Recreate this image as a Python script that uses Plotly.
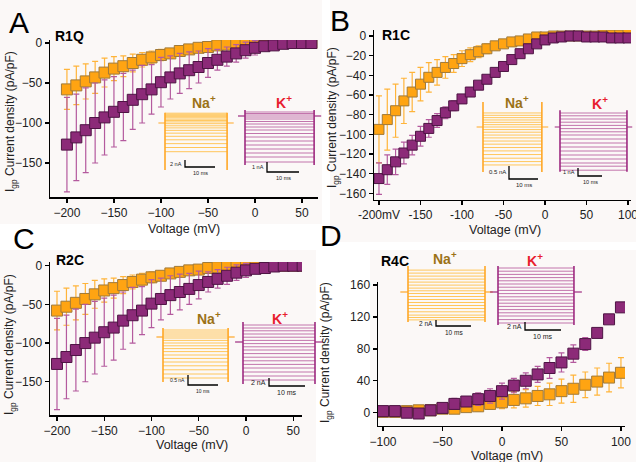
import plotly.graph_objects as go

W, H = 636, 462
FONT = "Arial, Liberation Sans, sans-serif"

# ---------------- data: I-V curves ----------------
volt_ac = [-200, -190, -180, -170, -160, -150, -140, -130, -120, -110, -100, -90, -80,
           -70, -60, -50, -40, -30, -20, -10, 0, 10, 20, 30, 40, 50, 60]
na_a = [-58, -53, -48, -43, -37, -32, -29, -25, -21, -18, -15, -13, -10, -8, -6, -5, -3, -2,
        -1, -1, 0, 0, 0, 0, 0, 0, 0]
na_a_se = [25, 24, 22, 20, 18, 15, 13, 11, 9, 8, 7, 6, 5, 5, 4, 4, 3, 3, 2, 2, 2, 1, 1, 1, 1, 1, 1]
k_a = [-127, -118, -109, -100, -93, -86, -80, -71, -64, -58, -49, -43, -38, -34, -30, -25, -21,
       -17, -13, -9, -6, -4, -3, -1, 0, 0, 0]
k_a_se = [59, 54, 53, 50, 47, 44, 42, 37, 36, 31, 31, 27, 25, 23, 20, 18, 13, 12, 11, 10, 9, 5,
          4, 2, 1, 1, 1]

volt_b = [-200, -190, -180, -170, -160, -150, -140, -130, -120, -110, -100, -90, -80, -70, -60,
          -50, -40, -30, -20, -10, 0, 10, 20, 30, 40, 50, 60, 70, 80, 90, 100]
na_b = [-95, -85, -76, -66, -57, -49, -42, -37, -32, -28, -23, -19, -16, -13, -10, -8, -6, -5,
        -3, -1, -1, 0, 0, 0, 0, 0, 0, 1, 1, 1, 2]
na_b_se = [34, 31, 27, 23, 20, 17, 15, 13, 11, 9, 8, 7, 6, 5, 4, 4, 3, 3, 2, 2, 2, 1, 1, 1, 1,
           1, 1, 1, 1, 1, 1]
k_b = [-145, -136, -128, -119, -111, -102, -94, -86, -78, -71, -64, -57, -50, -44, -37, -31, -24,
       -18, -13, -8, -4, -2, -1, 0, 0, -1, -1, -1, -2, -2, -2]
k_b_se = [16, 15, 13, 11, 10, 10, 9, 7, 6, 5, 4, 3, 3, 2, 2, 2, 2, 1, 1, 1, 1, 1, 1, 1, 1, 1, 1,
          1, 1, 1, 1]

na_c = [-58, -53, -48, -43, -37, -32, -29, -25, -21, -18, -15, -13, -10, -8, -6, -5, -3, -2,
        -1, -1, 0, 0, 0, 0, 0, 0, 0]
na_c_se = [25, 24, 22, 20, 18, 15, 13, 11, 9, 8, 7, 6, 5, 5, 4, 4, 3, 3, 2, 2, 2, 1, 1, 1, 1, 1, 1]
k_c = [-127, -118, -109, -100, -93, -86, -80, -71, -64, -58, -49, -43, -38, -34, -30, -25, -21,
       -17, -13, -9, -6, -4, -3, -1, 0, 0, 0]
k_c_se = [59, 54, 53, 50, 47, 44, 42, 37, 36, 31, 31, 27, 25, 23, 20, 18, 13, 12, 11, 10, 9, 5,
          4, 2, 1, 1, 1]

volt_d = [-100, -90, -80, -70, -60, -50, -40, -30, -20, -10, 0, 10, 20, 30, 40, 50, 60, 70, 80,
          90, 100]
na_d = [1, 1, 2, 3, 3, 5, 5, 7, 8, 11, 13, 16, 18, 21, 23, 27, 30, 35, 39, 44, 50]
na_d_se = [2, 2, 2, 3, 3, 4, 4, 5, 6, 7, 8, 10, 11, 12, 14, 15, 17, 16, 17, 18, 19]
k_d = [2, 2, 0, -1, 3, 6, 11, 14, 17, 21, 27, 34, 40, 48, 56, 63, 74, 86, 100, 117, 132]
k_d_se = [3, 3, 3, 4, 4, 5, 7, 6, 8, 9, 10, 9, 10, 10, 13, 12, 11, 8, 5, 4, 6]

# ---------------- data: inset current traces (steady levels, nA) ----------------
a_na_levels = [2.8, 2.5, 2.2, 1.9, 1.5, 1.1, 0.7, 0.3, -0.2, -0.8, -1.4, -2.1, -2.9, -3.8,
               -4.8, -5.9, -7.0, -8.2]
a_k_levels = [0.4, 0.25, 0.1, -0.1, -0.3, -0.55, -0.8, -1.1, -1.4, -1.75, -2.1, -2.5, -2.9,
              -3.3, -3.7, -4.1, -4.6]
b_na_levels = [0.54, 0.45, 0.36, 0.27, 0.18, 0.09, 0.0, -0.1, -0.2, -0.31, -0.42, -0.54, -0.66,
               -0.79, -0.92, -1.06, -1.2, -1.33, -1.46]
b_k_levels = [1.75, 1.4, 1.0, 0.6, 0.2, -0.2, -0.6, -1.0, -1.5, -2.0, -2.5, -3.0, -3.5, -4.0,
              -4.5, -4.9, -5.4]
c_na_levels = [0.35, 0.25, 0.15, 0.05, -0.05, -0.17, -0.3, -0.44, -0.58, -0.73, -0.9, -1.07,
               -1.25, -1.44, -1.64, -1.85, -2.05]
c_k_levels = [4.25, 3.5, 2.8, 2.0, 1.2, 0.4, -0.4, -1.2, -2.0, -2.9, -3.8, -4.7, -5.6, -6.5,
              -7.5, -8.5, -9.5]
d_na_levels = [7.3, 6.3, 5.3, 4.3, 3.3, 2.3, 1.3, 0.4, -0.5, -1.5, -2.5, -3.5, -4.5, -5.5, -6.6,
               -7.7, -8.5, -9.3]
d_k_levels = [6.0, 5.2, 4.4, 3.6, 2.8, 2.0, 1.2, 0.4, -0.4, -1.2, -2.0, -2.8, -3.6, -4.4, -5.2,
              -6.0, -6.9, -7.75]
# capacitive transient peaks (top, bottom) in nA and pulse durations in ms
a_na_trans, a_k_trans = [2.9, -13.4], [0.6, -4.9]
b_na_trans, b_k_trans = [0.96, -1.73], [2.1, -5.6]
c_na_trans, c_k_trans = [0.45, -2.25], [5.0, -10.5]
d_na_trans, d_k_trans = [8.7, -10.0], [6.5, -8.25]
pulse_ms = [20.7, 21.6, 20.3, 27.9, 21.7, 20.0, 22.0, 21.1]
scale_na = [2, 1, 0.5, 1, 0.5, 2, 2, 2]
scale_labels = ["2 nA", "1 nA", "0.5 nA", "1 nA", "0.5 nA", "2 nA", "2 nA", "2 nA"]
scale_ms = 10

# ---------------- styling ----------------
NA_FILL, NA_EDGE, NA_ERR = "#FFA412", "#A07A3A", "#FFB43A"
K_FILL, K_EDGE, K_ERR = "#8C2A78", "#4E1444", "#B45A9E"
NA_TRACE, NA_TR_EDGE = "#FFC65A", "#FFA726"
K_TRACE, K_TR_EDGE = "#C274AC", "#9E2A80"


def px_x(p):
    return p / W


def px_y(p):
    return 1 - p / H


fig = go.Figure()
layout = {}
annotations = []
shapes = []

# subtle panel backgrounds
for (x0, y0, x1, y1) in [(0, 0, 322, 224), (330, 0, 636, 242), (0, 250, 316, 462), (370, 250, 636, 462)]:
    shapes.append(dict(type="rect", xref="paper", yref="paper", x0=px_x(x0), x1=px_x(x1),
                       y0=px_y(y1), y1=px_y(y0), fillcolor="#fbf8f7", line=dict(width=0),
                       layer="below"))

panels = [
    dict(v=volt_ac, na=na_a, na_se=na_a_se, k=k_a, k_se=k_a_se, px=(50, 318), py=(40, 197),
         xr=[-218, 67], yr=[-192.5, 3.75], xt=[-200, -150, -100, -50, 0, 50], xtt=None,
         yt=[-150, -100, -50, 0], ms=11),
    dict(v=volt_b, na=na_b, na_se=na_b_se, k=k_b, k_se=k_b_se, px=(374, 631), py=(30, 199.5),
         xr=[-206, 103.6], yr=[-166.3, 6.1], xt=[-200, -150, -100, -50, 0, 50, 100],
         xtt=["-200mV", "-150", "-100", "-50", "0", "50", "100"],
         yt=[-160, -140, -120, -100, -80, -60, -40, -20, 0], ms=10),
    dict(v=volt_ac, na=na_c, na_se=na_c_se, k=k_c, k_se=k_c_se, px=(50, 302), py=(262, 415),
         xr=[-207.4, 59.3], yr=[-193, 4.8], xt=[-200, -150, -100, -50, 0, 50], xtt=None,
         yt=[-150, -100, -50, 0], ms=11),
    dict(v=volt_d, na=na_d, na_se=na_d_se, k=k_d, k_se=k_d_se, px=(378, 625), py=(282, 425.7),
         xr=[-104.2, 103.4], yr=[-16.3, 163.8], xt=[-100, -50, 0, 50, 100], xtt=None,
         yt=[0, 40, 80, 120, 160], ms=11),
]

for i, p in enumerate(panels, start=1):
    s = "" if i == 1 else str(i)
    for vals, se, fill, edge, err in [(p["na"], p["na_se"], NA_FILL, NA_EDGE, NA_ERR),
                                      (p["k"], p["k_se"], K_FILL, K_EDGE, K_ERR)]:
        fig.add_trace(go.Scatter(
            x=p["v"], y=vals, mode="markers", xaxis="x" + s, yaxis="y" + s,
            marker=dict(symbol="square", size=p["ms"], color=fill, line=dict(color=edge, width=1)),
            error_y=dict(type="data", array=se, color=err, thickness=1.2, width=3),
            showlegend=False, hoverinfo="skip"))
    common = dict(showline=True, linecolor="black", linewidth=1.5, ticks="outside", ticklen=4,
                  tickwidth=1.3, tickcolor="black", showgrid=False, zeroline=False,
                  automargin=False, showticklabels=True, ticklabeloverflow="allow",
                  tickfont=dict(size=12, family=FONT, color="#222"), fixedrange=True)
    xa = dict(domain=[px_x(p["px"][0]), px_x(p["px"][1])], range=p["xr"], anchor="y" + s,
              tickvals=p["xt"], **common)
    if p["xtt"]:
        xa["ticktext"] = p["xtt"]
    layout["xaxis" + s] = xa
    layout["yaxis" + s] = dict(domain=[px_y(p["py"][1]), px_y(p["py"][0])], range=p["yr"],
                               anchor="x" + s, tickvals=p["yt"], **common)

# ---------------- insets ----------------
insets = [
    dict(levels=a_na_levels, trans=a_na_trans, ton=165, base=123, ppms=3.0, ppna=3.5, corner=(185, 167), na=True, fs=5.5),
    dict(levels=a_k_levels, trans=a_k_trans, ton=245, base=116, ppms=3.2, ppna=10, corner=(267, 172), na=False, fs=5.5),
    dict(levels=b_na_levels, trans=b_na_trans, ton=483, base=127, ppms=2.9, ppna=26, corner=(509, 179), na=True, fs=6),
    dict(levels=b_k_levels, trans=b_k_trans, ton=560, base=127, ppms=2.4, ppna=8, corner=(578, 176), na=False, fs=5.5),
    dict(levels=c_na_levels, trans=c_na_trans, ton=163, base=337, ppms=3.0, ppna=20, corner=(188, 385), na=True, fs=5),
    dict(levels=c_k_levels, trans=c_k_trans, ton=243, base=342, ppms=3.6, ppna=4, corner=(269, 386), na=False, fs=7),
    dict(levels=d_na_levels, trans=d_na_trans, ton=408, base=292, ppms=3.5, ppna=3, corner=(436, 326), na=True, fs=6.5),
    dict(levels=d_k_levels, trans=d_k_trans, ton=498, base=292, ppms=3.6, ppna=4, corner=(525, 330), na=False, fs=7),
]

for j, ins in enumerate(insets):
    n = str(j + 5)
    dur = pulse_ms[j]
    ton, base, ppms, ppna = ins["ton"], ins["base"], ins["ppms"], ins["ppna"]
    cx, cy = ins["corner"]
    x0p, x1p = ton - 9, ton + dur * ppms + 9
    y0p = base - ins["trans"][0] * ppna - 3
    y1p = max(cy, base - ins["trans"][1] * ppna) + 3
    layout["xaxis" + n] = dict(domain=[px_x(x0p), px_x(x1p)],
                               range=[(x0p - ton) / ppms, (x1p - ton) / ppms],
                               anchor="y" + n, visible=False, fixedrange=True, automargin=False)
    layout["yaxis" + n] = dict(domain=[px_y(y1p), px_y(y0p)],
                               range=[(base - y1p) / ppna, (base - y0p) / ppna],
                               anchor="x" + n, visible=False, fixedrange=True, automargin=False)
    col = NA_TRACE if ins["na"] else K_TRACE
    ecol = NA_TR_EDGE if ins["na"] else K_TR_EDGE
    xs, ys = [], []
    for lv in ins["levels"]:
        xs += [0, dur, None]
        ys += [lv, lv, None]
    fig.add_trace(go.Scatter(x=xs, y=ys, mode="lines", line=dict(color=col, width=1),
                             xaxis="x" + n, yaxis="y" + n, showlegend=False, hoverinfo="skip"))
    # baseline stubs and transient edges
    fig.add_trace(go.Scatter(x=[-2.2, 0, None, dur, dur + 2.2],
                             y=[0, 0, None, 0, 0], mode="lines",
                             line=dict(color=ecol, width=1.2), xaxis="x" + n, yaxis="y" + n,
                             showlegend=False, hoverinfo="skip"))
    fig.add_trace(go.Scatter(x=[0, 0, None, dur, dur],
                             y=[ins["trans"][0], ins["trans"][1], None, ins["trans"][0], ins["trans"][1]],
                             mode="lines", line=dict(color=ecol, width=1.6), xaxis="x" + n,
                             yaxis="y" + n, showlegend=False, hoverinfo="skip"))
    # scale bar
    tc, ic = (cx - ton) / ppms, (base - cy) / ppna
    sna = scale_na[j]
    fig.add_trace(go.Scatter(x=[tc, tc, tc + scale_ms], y=[ic + sna, ic, ic], mode="lines",
                             line=dict(color="black", width=1.3), xaxis="x" + n, yaxis="y" + n,
                             showlegend=False, hoverinfo="skip"))
    annotations.append(dict(x=tc - 0.4, y=ic + sna / 2, xref="x" + n, yref="y" + n,
                            text=scale_labels[j], showarrow=False, xanchor="right",
                            yanchor="middle", font=dict(size=ins["fs"], family=FONT, color="#222")))
    annotations.append(dict(x=tc + scale_ms / 2, y=ic, xref="x" + n, yref="y" + n,
                            text="10 ms", showarrow=False, xanchor="center", yanchor="top",
                            yshift=-1, font=dict(size=ins["fs"], family=FONT, color="#222")))


def ann(x, y, text, size, color="black", bold=False, angle=0):
    t = "<b>%s</b>" % text if bold else text
    annotations.append(dict(x=px_x(x), y=px_y(y), xref="paper", yref="paper", text=t,
                            showarrow=False, xanchor="center", yanchor="middle",
                            textangle=angle, font=dict(size=size, family=FONT, color=color)))


# panel letters and titles
for (x, y, t) in [(19, 22, "A"), (340, 21, "B"), (24, 238, "C"), (331, 235, "D")]:
    ann(x, y, t, 30)
for (x, y, t) in [(69, 36, "R1Q"), (396, 35, "R1C"), (70, 260, "R2C"), (395, 261, "R4C")]:
    ann(x, y, t, 14, bold=True)
# ion labels
NA_LAB, K_LAB = "#9B7216", "#E8202E"
for (x, y) in [(204, 102), (517, 102), (209, 318), (445, 258)]:
    ann(x, y, "Na<sup>+</sup>", 14, NA_LAB, bold=True)
for (x, y) in [(284, 102), (600, 103), (280, 318), (535, 260)]:
    ann(x, y, "K<sup>+</sup>", 14, K_LAB, bold=True)
# axis titles
for (x, y) in [(184, 229), (505, 230), (192, 445), (507, 455.5)]:
    ann(x, y, "Voltage (mV)", 12.5, "#222")
for (x, y) in [(11, 122), (333, 118), (10, 345), (326, 353)]:
    ann(x, y, "I<sub>gp</sub> Current density (pA/pF)", 12, "#222", angle=-90)

fig.update_layout(
    template="none",
    width=W, height=H, margin=dict(l=0, r=0, t=0, b=0, pad=0, autoexpand=False),
    paper_bgcolor="white", plot_bgcolor="rgba(0,0,0,0)",
    font=dict(family=FONT), annotations=annotations, shapes=shapes, **layout)

fig.write_html("out.html", config={"displayModeBar": False, "staticPlot": True},
               post_script="document.body.style.margin='0';document.body.style.overflow='hidden';")
